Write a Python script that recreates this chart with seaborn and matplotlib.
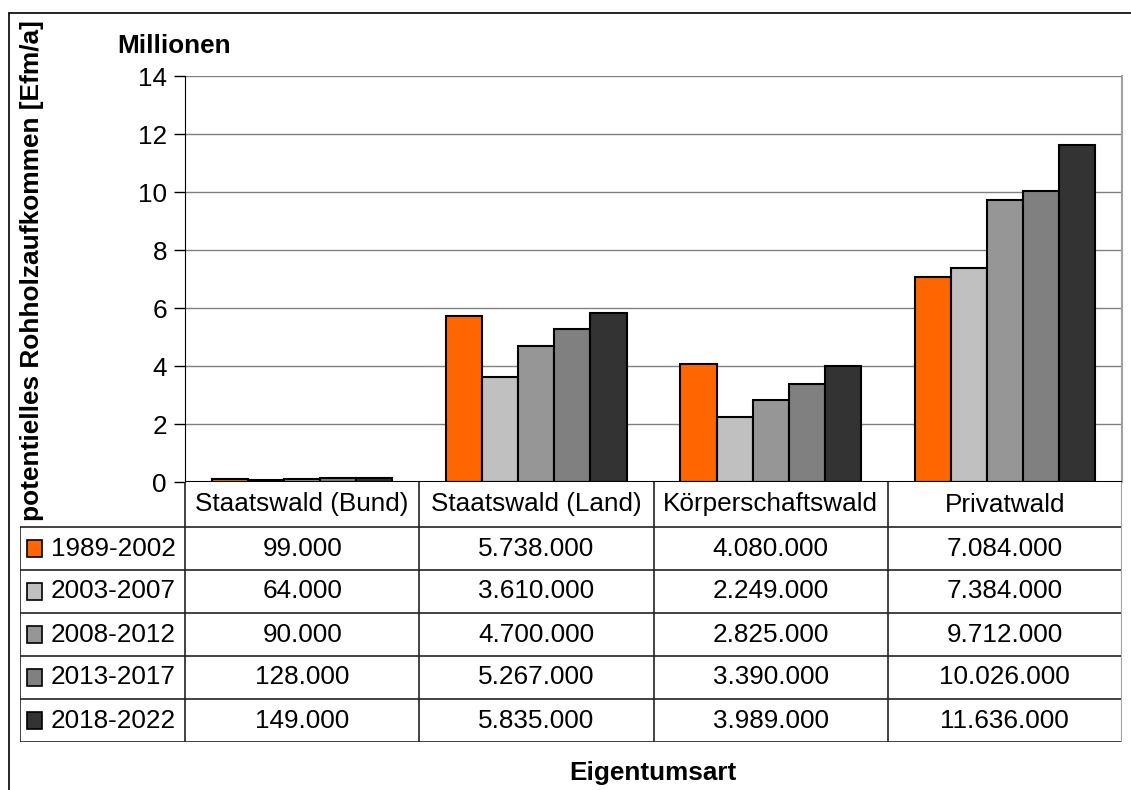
import pandas as pd
import numpy as np
import matplotlib.pyplot as plt
import seaborn as sns
from matplotlib.lines import Line2D
from matplotlib.patches import Rectangle

# Data (Efm/a)
categories = ['Staatswald (Bund)', 'Staatswald (Land)', 'Körperschaftswald', 'Privatwald']
periods = ['1989-2002', '2003-2007', '2008-2012', '2013-2017', '2018-2022']
v_1989 = [99000, 5738000, 4080000, 7084000]
v_2003 = [64000, 3610000, 2249000, 7384000]
v_2008 = [90000, 4700000, 2825000, 9712000]
v_2013 = [128000, 5267000, 3390000, 10026000]
v_2018 = [149000, 5835000, 3989000, 11636000]
colors = ['#FF6600', '#C0C0C0', '#969696', '#808080', '#333333']

series = [v_1989, v_2003, v_2008, v_2013, v_2018]
rows = []
for p, vals in zip(periods, series):
    for c, v in zip(categories, vals):
        rows.append({'Eigentumsart': c, 'Periode': p, 'Mio': v / 1e6, 'Wert': v})
df = pd.DataFrame(rows)

sns.set_style('white')
plt.rcParams['font.family'] = ['Liberation Sans', 'DejaVu Sans']
plt.rcParams['text.color'] = 'black'
plt.rcParams['ytick.color'] = 'black'
plt.rcParams['ytick.labelcolor'] = 'black'
FS = 18.8

W, H = 1131, 790
fig = plt.figure(figsize=(W / 100, H / 100), dpi=100)

def px(x0, y0, x1, y1):
    # pixel box (top-left origin) -> figure fraction
    return [x0 / W, 1 - y1 / H, (x1 - x0) / W, (y1 - y0) / H]

# outer frame
fig.add_artist(Line2D([9 / W, 9 / W], [0, 1 - 13 / H], color='black', lw=1.2))
fig.add_artist(Line2D([9 / W, 1], [1 - 13 / H, 1 - 13 / H], color='black', lw=1.2))

x_left, x_right, y_top, y_zero = 185, 1122, 76, 482
ax = fig.add_axes(px(x_left, y_top, x_right, y_zero))
sns.barplot(data=df, x='Eigentumsart', y='Mio', hue='Periode', palette=colors,
            width=0.77, edgecolor='black', linewidth=1.5, gap=0, saturation=1,
            legend=False, ax=ax)
ax.set_xlim(-0.5, 3.5)
ax.set_ylim(0, 14)
ax.set_yticks(range(0, 15, 2))
ax.tick_params(axis='y', labelsize=FS, length=8, width=1, direction='out', left=True, pad=5,
               colors='black')
ax.set_xticks([])
ax.set_xlabel('')
ax.set_ylabel('')
ax.yaxis.grid(True, color='#808080', lw=1)
ax.set_axisbelow(True)
for s in ['top', 'bottom']:
    ax.spines[s].set_visible(False)
ax.spines['left'].set_color('black')
ax.spines['right'].set_color('#A0A0A0')
ax.spines['right'].set_linewidth(1.5)
ax.axhline(0, color='black', lw=1.5, zorder=5)
fig.text(117 / W, 1 - 46 / H, 'Millionen', fontsize=FS, fontweight='bold', va='center', ha='left')
fig.text(32 / W, 1 - 271 / H, 'potentielles Rohholzaufkommen [Efm/a]', rotation=90,
         fontsize=18.9, fontweight='bold', va='center', ha='center')

# data table below
lab_w = (x_left - 20) / ((x_right - x_left) / 4)
tax = fig.add_axes(px(20, y_zero, x_right, 742))
tax.set_xlim(-0.5 - lab_w, 3.5)
head = 45 / 43
n = len(periods)
tax.set_ylim(-n, head)
tax.axis('off')
lc = '#222222'
tax.plot([-0.5 - lab_w, 3.5], [0, 0], color=lc, lw=1.2)
for i in range(1, n + 1):
    tax.plot([-0.5 - lab_w, 3.5], [-i, -i], color=lc, lw=1.2)
for j in range(4):
    tax.plot([j - 0.5, j - 0.5], [head, -n], color=lc, lw=1.2)
tax.plot([3.5, 3.5], [head, -n], color='#A0A0A0', lw=1.5)
tax.plot([-0.5 - lab_w, -0.5 - lab_w], [0, -n], color=lc, lw=1.2)
for j, c in enumerate(categories):
    tax.text(j, head / 2, c, ha='center', va='center', fontsize=FS)
sq = 16 / ((x_right - 20) / (4 + lab_w))
for i, (p, vals, col) in enumerate(zip(periods, series, colors)):
    yc = -i - 0.5
    tax.add_patch(Rectangle((-0.5 - lab_w + 7 / 234, yc - 0.19), sq * 0.95, 0.38,
                            facecolor=col, edgecolor='black', lw=1.2))
    tax.text(-0.5 - lab_w + 31 / 234, yc, p, ha='left', va='center', fontsize=FS)
    for j, v in enumerate(vals):
        tax.text(j, yc, f'{v:,}'.replace(',', '.'), ha='center', va='center', fontsize=FS)

fig.text(653 / W, 1 - 773 / H, 'Eigentumsart', fontsize=FS, fontweight='bold', ha='center', va='center')

fig.savefig('out.png', dpi=100)
